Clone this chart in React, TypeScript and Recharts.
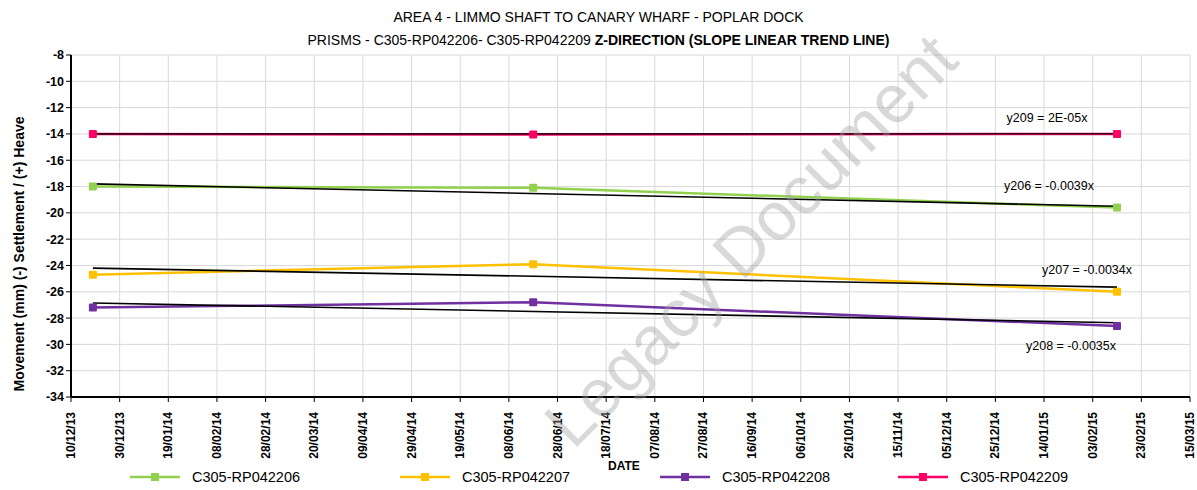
import React from 'react';
import { LineChart, Line, XAxis, YAxis, CartesianGrid } from 'recharts';

const titleLine1 = 'AREA 4 - LIMMO SHAFT TO CANARY WHARF - POPLAR DOCK';
const titleLine2a = 'PRISMS - C305-RP042206- C305-RP042209  ';
const titleLine2b = 'Z-DIRECTION (SLOPE LINEAR TREND LINE)';
const yLabel = 'Movement (mm)  (-) Settlement / (+) Heave';
const xLabel = 'DATE';
const watermark = 'Legacy Document';

const tickLabels = [
  '10/12/13', '30/12/13', '19/01/14', '08/02/14', '28/02/14', '20/03/14', '09/04/14', '29/04/14',
  '19/05/14', '08/06/14', '28/06/14', '18/07/14', '07/08/14', '27/08/14', '16/09/14', '06/10/14',
  '26/10/14', '15/11/14', '05/12/14', '25/12/14', '14/01/15', '03/02/15', '23/02/15', '15/03/15',
];
const yTicks = [-8, -10, -12, -14, -16, -18, -20, -22, -24, -26, -28, -30, -32, -34];

const dates = ['19/12/13', '18/06/14', '13/02/15'];
const rp206 = [-18.0, -18.1, -19.6];
const rp207 = [-24.7, -23.9, -26.0];
const rp208 = [-27.2, -26.8, -28.6];
const rp209 = [-14.0, -14.05, -14.0];
const trend206 = [-17.8, null, -19.5];
const trend207 = [-24.2, null, -25.65];
const trend208 = [-26.85, null, -28.35];
const trend209 = [-14.0, null, -13.99];

const seriesNames = ['C305-RP042206', 'C305-RP042207', 'C305-RP042208', 'C305-RP042209'];
const seriesColors = ['#92D050', '#FFC000', '#7030A0', '#FF0066'];
const trendLabels = ['y206 = -0.0039x', 'y207 = -0.0034x', 'y208 = -0.0035x', 'y209 = 2E-05x'];

const parseDate = (s: string) => {
  const [d, m, y] = s.split('/').map(Number);
  return Date.UTC(2000 + y, m - 1, d);
};
const origin = parseDate(tickLabels[0]);
const toDay = (s: string) => Math.round((parseDate(s) - origin) / 86400000);
const tickDays = tickLabels.map(toDay);
const dayToLabel: Record<number, string> = {};
tickDays.forEach((d, i) => (dayToLabel[d] = tickLabels[i]));

const data = dates.map((d, i) => ({
  day: toDay(d),
  s206: rp206[i], s207: rp207[i], s208: rp208[i], s209: rp209[i],
  t206: trend206[i], t207: trend207[i], t208: trend208[i], t209: trend209[i],
}));

const FONT = '"Liberation Sans", Arial, sans-serif';

const SquareDot = (color: string) => (props: any) => {
  const { cx, cy, index } = props;
  if (cx == null || cy == null) return <g key={index} />;
  return <rect key={index} x={cx - 4} y={cy - 4} width={8} height={8} fill={color} rx={1} />;
};

const trendLabelOffsets = [
  { dx: -68, dy: -16 },
  { dx: -30, dy: -13 },
  { dx: -46, dy: 27 },
  { dx: -70, dy: -12 },
];

const makeTrendLabel = (i: number) => (props: any) => {
  const { x, y, index } = props;
  if (index !== 2 || x == null) return null;
  const o = trendLabelOffsets[i];
  return (
    <text key={'tl' + i} x={x + o.dx} y={y + o.dy} textAnchor="middle" fontSize={12.5} fontFamily={FONT} fill="#000">
      {trendLabels[i]}
    </text>
  );
};

const XTick = (props: any) => {
  const { x, y, payload } = props;
  return (
    <text x={x} y={y + 8} transform={`rotate(-90, ${x}, ${y + 8})`} textAnchor="end" dominantBaseline="central"
      fontSize={12} fontWeight="bold" fontFamily={FONT} fill="#000">
      {dayToLabel[payload.value] ?? ''}
    </text>
  );
};

const keys = ['s206', 's207', 's208', 's209'];
const tkeys = ['t206', 't207', 't208', 't209'];
const legendX = [130, 400, 660, 898];

export default function App() {
  return (
    <div style={{ position: 'absolute', left: 0, top: 0, width: 1197, height: 490, background: '#fff', fontFamily: FONT, overflow: 'hidden' }}>
      <div style={{ position: 'absolute', left: 0, width: 1197, top: 6, textAlign: 'center', fontSize: 14, lineHeight: '23px', color: '#000' }}>
        <div>{titleLine1}</div>
        <div>{titleLine2a}<b>{titleLine2b}</b></div>
      </div>
      <LineChart width={1197} height={490} data={data} margin={{ top: 55, right: 7, left: 0, bottom: 30 }}>
        <CartesianGrid stroke="#d9d9d9" strokeWidth={1} />
        <XAxis dataKey="day" type="number" domain={[0, 460]} ticks={tickDays} interval={0}
          tick={<XTick />} height={63} axisLine={{ stroke: '#000', strokeWidth: 2 }} tickLine={{ stroke: '#000' }} tickSize={5} />
        <YAxis type="number" domain={[-34, -8]} ticks={yTicks} interval={0} width={71}
          tick={{ fontSize: 12.5, fontWeight: 'bold', fill: '#000', fontFamily: FONT }}
          axisLine={{ stroke: '#000', strokeWidth: 2 }} tickLine={{ stroke: '#000' }} tickSize={5} />
        {keys.map((k, i) => (
          <Line key={k} dataKey={k} stroke={seriesColors[i]} strokeWidth={2.5} dot={SquareDot(seriesColors[i])}
            activeDot={false} isAnimationActive={false} />
        ))}
        {tkeys.map((k, i) => (
          <Line key={k} dataKey={k} stroke={i === 3 ? '#3a0018' : '#000'} strokeWidth={1.6} dot={false} connectNulls
            activeDot={false} isAnimationActive={false} label={makeTrendLabel(i)} />
        ))}
      </LineChart>
      <div style={{ position: 'absolute', left: 608, top: 459, fontSize: 12, fontWeight: 'bold' }}>{xLabel}</div>
      {seriesNames.map((n, i) => (
        <div key={n} style={{ position: 'absolute', left: legendX[i], top: 469, height: 16, display: 'flex', alignItems: 'center' }}>
          <svg width={52} height={16}>
            <line x1={0} y1={8} x2={50} y2={8} stroke={seriesColors[i]} strokeWidth={2.5} />
            <rect x={21} y={4} width={8} height={8} fill={seriesColors[i]} />
          </svg>
          <span style={{ marginLeft: 10, fontSize: 14.5, whiteSpace: 'nowrap' }}>{n}</span>
        </div>
      ))}
      <svg width={1197} height={490} style={{ position: 'absolute', left: 0, top: 0, pointerEvents: 'none' }}>
        <text x={19} y={254} transform="rotate(-90, 19, 254)" textAnchor="middle" dominantBaseline="central"
          fontSize={14} fontWeight="bold" fontFamily={FONT} fill="#000">
          {yLabel}
        </text>
        <text x={750} y={240} transform="rotate(-45, 750, 240)" textAnchor="middle" dominantBaseline="central"
          fontSize={68} fontFamily={FONT} fill="rgba(160,160,160,0.4)">
          {watermark}
        </text>
      </svg>
    </div>
  );
}
